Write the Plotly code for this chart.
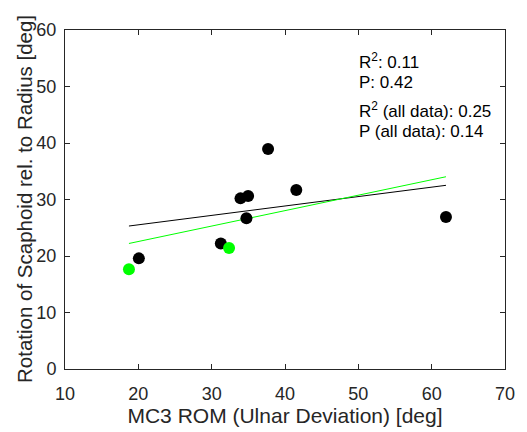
import numpy as np
import plotly.graph_objects as go

# Data
black_x = [20.07, 31.25, 33.93, 34.97, 34.74, 37.69, 41.54, 61.95]
black_y = [19.58, 22.2, 30.2, 30.6, 26.7, 38.95, 31.7, 26.9]
green_x = [18.72, 32.37]
green_y = [17.65, 21.4]

x_ticks = [10, 20, 30, 40, 50, 60, 70]
y_ticks = [0, 10, 20, 30, 40, 50, 60]

stats_lines = ["R<sup>2</sup>: 0.11", "P: 0.42", "R<sup>2</sup> (all data): 0.25", "P (all data): 0.14"]
stats_y = [54.5, 50.7, 45.9, 42.05]

x_title = "MC3 ROM (Ulnar Deviation) [deg]"
y_title = "Rotation of Scaphoid rel. to Radius [deg]"

all_x = np.array(black_x + green_x)
all_y = np.array(black_y + green_y)
xs = np.array([all_x.min(), all_x.max()])

pb = np.polyfit(black_x, black_y, 1)
pa = np.polyfit(all_x, all_y, 1)

TXT = "#262626"
FONT = "Liberation Sans, Arial, Helvetica, sans-serif"

fig = go.Figure()
fig.add_trace(go.Scatter(x=xs, y=np.polyval(pb, xs), mode="lines",
                         line=dict(color="black", width=1), showlegend=False))
fig.add_trace(go.Scatter(x=xs, y=np.polyval(pa, xs), mode="lines",
                         line=dict(color="#00ff00", width=1), showlegend=False))
fig.add_trace(go.Scatter(x=black_x, y=black_y, mode="markers",
                         marker=dict(color="black", size=12, line=dict(width=0)), showlegend=False))
fig.add_trace(go.Scatter(x=green_x, y=green_y, mode="markers",
                         marker=dict(color="#00ff00", size=12, line=dict(width=0)), showlegend=False))

for txt, yy in zip(stats_lines, stats_y):
    fig.add_annotation(x=49.75, y=yy, text=txt, showarrow=False, xanchor="left", yanchor="middle",
                       font=dict(size=17, color="black", family=FONT))

# y-axis title as rotated annotation for exact placement
fig.add_annotation(xref="paper", yref="paper", x=-0.092, y=0.5, text=y_title, textangle=-90,
                   showarrow=False, xanchor="center", yanchor="middle",
                   font=dict(size=20.5, color=TXT, family=FONT))

axis_common = dict(showgrid=False, zeroline=False, showline=True, linecolor=TXT, linewidth=1,
                   mirror="ticks", ticks="inside", ticklen=5, tickcolor=TXT, tickwidth=1,
                   tickfont=dict(size=18, color=TXT, family=FONT))

# the page body adds an 8px offset; size the figure to fit the 527x432 window
fig.update_layout(
    width=519, height=424,
    margin=dict(l=57, r=15, t=20, b=63),
    paper_bgcolor="white", plot_bgcolor="white",
    font=dict(family=FONT, color=TXT),
    xaxis=dict(range=[10, 70], tickvals=x_ticks, ticklabelstandoff=8,
               title=dict(text=x_title, font=dict(size=21, color=TXT), standoff=2),
               **axis_common),
    yaxis=dict(range=[0, 60], tickvals=y_ticks, ticklabelstandoff=4,
               **axis_common),
)

fig.write_html("out.html")
